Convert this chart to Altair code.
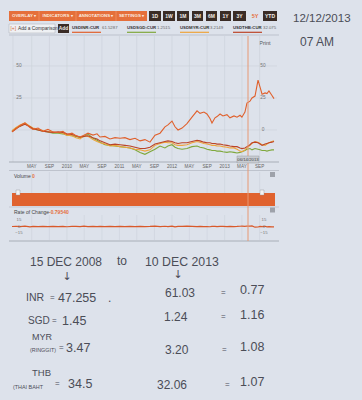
import altair as alt
import pandas as pd

# ---------------- data ----------------
dates = [
    "2008-12-15", "2009-01-12", "2009-02-09", "2009-03-15", "2009-04-19", "2009-05-10", "2009-06-14", "2009-07-18", "2009-08-22", "2009-09-26",
    "2009-10-31", "2009-12-04", "2010-01-01", "2010-02-05", "2010-03-05", "2010-04-02", "2010-04-29", "2010-05-27", "2010-07-01", "2010-07-29",
    "2010-08-19", "2010-09-22", "2010-10-27", "2010-12-01", "2011-01-05", "2011-02-08", "2011-03-15", "2011-04-19", "2011-05-24", "2011-06-27",
    "2011-08-01", "2011-09-05", "2011-10-10", "2011-11-13", "2011-12-04", "2012-01-01", "2012-01-22", "2012-02-12", "2012-03-11", "2012-04-14",
    "2012-05-19", "2012-06-23", "2012-07-14", "2012-08-10", "2012-08-31", "2012-09-21", "2012-10-05", "2012-10-26", "2012-11-09", "2012-11-30",
    "2012-12-20", "2013-01-17", "2013-02-07", "2013-03-07", "2013-03-28", "2013-04-18", "2013-05-01", "2013-05-22", "2013-06-05", "2013-06-26",
    "2013-07-10", "2013-07-31", "2013-08-21", "2013-09-04", "2013-09-18", "2013-10-09", "2013-10-22", "2013-11-05", "2013-11-26", "2013-12-10",
]
usdinr = [
    -1.5, 1.0, 3.5, 5.5, 2.0, 0.5, 1.5, -1.0, 0.5, -1.5,
    -2.0, -1.0, -3.5, -2.5, -4.5, -5.5, -4.0, -2.5, -4.0, -3.0,
    -5.5, -5.0, -7.0, -6.0, -6.5, -6.0, -7.5, -6.5, -8.5, -7.5,
    -9.5, -4.0, -2.5, 2.5, 4.0, 7.0, 2.5, 0.0, 1.5, 5.0,
    10.0, 15.0, 13.0, 14.0, 12.5, 9.0, 5.5, 9.5, 10.5, 12.5,
    11.0, 12.0, 9.5, 11.0, 10.0, 11.5, 10.0, 14.0, 21.0, 22.5,
    25.0, 26.5, 39.0, 33.5, 28.0, 29.0, 28.5, 30.5, 27.0, 24.5,
]
usdsgd = [
    -1.0, 1.5, 3.0, 5.0, 2.5, 1.0, 0.0, -1.0, -1.5, -2.5,
    -2.5, -3.0, -4.0, -4.5, -5.0, -6.0, -5.0, -3.0, -6.5, -8.0,
    -9.5, -11.5, -12.0, -12.5, -13.0, -13.5, -14.0, -15.5, -17.5, -19.0,
    -17.0, -15.0, -12.5, -14.0, -12.5, -11.5, -13.5, -14.5, -15.0, -14.5,
    -13.0, -12.5, -13.5, -14.0, -15.0, -15.5, -16.0, -16.0, -16.5, -16.5,
    -17.0, -17.5, -17.0, -17.5, -18.0, -17.5, -17.0, -16.0, -15.0, -14.5,
    -15.5, -14.5, -15.0, -15.5, -16.0, -16.0, -16.5, -16.0, -15.5, -15.5,
]
usdmyr = [
    -0.5, 2.0, 4.0, 5.5, 3.0, 1.5, 0.5, -0.5, -1.0, -2.0,
    -2.0, -2.5, -4.0, -4.5, -6.0, -7.0, -4.5, -5.0, -7.5, -9.0,
    -10.0, -11.0, -12.5, -12.0, -13.0, -13.5, -14.0, -15.0, -15.5, -16.5,
    -15.5, -12.0, -10.5, -9.5, -10.0, -10.0, -11.5, -12.0, -12.0, -11.5,
    -10.0, -9.0, -9.5, -10.5, -11.0, -11.5, -12.0, -12.0, -12.5, -12.5,
    -13.0, -13.5, -14.0, -14.0, -15.0, -16.5, -17.0, -15.5, -14.0, -12.0,
    -10.5, -9.0, -9.5, -10.5, -11.5, -12.0, -11.0, -10.0, -9.0, -8.5,
]
usdthb = [
    -1.5, 1.0, 3.0, 4.5, 2.5, 1.0, 0.0, -1.0, -1.5, -2.0,
    -1.5, -2.0, -3.0, -3.5, -4.5, -5.5, -5.0, -4.5, -6.0, -7.0,
    -8.5, -10.0, -11.5, -11.0, -11.5, -12.0, -12.5, -13.5, -14.5, -14.5,
    -13.5, -11.0, -10.0, -9.0, -8.5, -9.0, -10.0, -10.5, -10.0, -10.0,
    -9.0, -8.0, -8.5, -9.5, -10.0, -10.0, -10.5, -10.5, -11.0, -11.0,
    -11.5, -12.0, -12.5, -13.0, -13.0, -14.0, -14.5, -14.0, -13.0, -11.5,
    -10.0, -9.5, -10.0, -11.0, -12.0, -11.0, -10.5, -10.0, -9.5, -9.0,
]
rate_of_change = [
    0.0, 0.6, -0.4, 0.9, -0.7, 0.3, -0.2, 0.5, -0.5, 0.2,
    -0.3, 0.4, -0.6, 0.3, 0.1, -0.4, 0.7, -0.2, 0.3, -0.5,
    0.2, -0.1, 0.4, -0.3, 0.2, -0.4, 0.3, -0.2, 0.5, -0.3,
    0.1, 0.8, -0.5, 0.6, -0.4, 0.9, -0.8, 0.2, 0.4, 0.7,
    0.5, -0.3, 0.4, -0.5, -0.2, -0.6, 0.3, 0.5, -0.1, 0.2,
    0.4, -0.5, 0.3, -0.2, 0.1, 0.6, 0.9, 0.4, 1.2, 0.8,
    1.5, -1.6, -1.2, 0.3, -0.2, 0.6, -0.8, -0.5, -0.8, -0.8,
]
series_names = ["USDINR:CUR", "USDSGD:CUR", "USDMYR:CUR", "USDTHB:CUR"]
series_quotes = ["61.5287", "1.2515", "3.2149", "32.075"]
tick_dates = ["2009-05-01", "2009-09-01", "2010-01-01", "2010-05-01", "2010-09-01", "2011-01-01", "2011-05-01",
              "2011-09-01", "2012-01-01", "2012-05-01", "2012-09-01", "2013-01-01", "2013-05-01", "2013-09-01"]
tick_labels = ["MAY", "SEP", "2010", "MAY", "SEP", "2011", "MAY", "SEP", "2012", "MAY", "SEP", "2013", "MAY", "SEP"]
pct_ticks = [50, 25, 0]
roc_ticks = [15, 0, -15]
menus = ["OVERLAY \u25be", "INDICATORS \u25be", "ANNOTATIONS \u25be", "SETTINGS \u25be"]
ranges = ["1D", "1W", "1M", "3M", "6M", "1Y", "3Y", "5Y", "YTD"]
currencies = ["INR", "SGD", "MYR", "THB"]
currency_notes = ["", "", "(RINGGIT)", "(THAI BAHT"]
rate_2008 = [47.255, 1.45, 3.47, 34.5]
rate_2013 = [61.03, 1.24, 3.20, 32.06]
ratio = [0.77, 1.16, 1.08, 1.07]

# ---------------- style ----------------
BG = "#dde2eb"
ORANGE = "#e56f3b"
DARK = "#3a2c26"
INK = "#4b4d57"
UI = "Liberation Sans, Arial, sans-serif"
HAND = "Liberation Sans"
line_colors = ["#e0602c", "#7fa83c", "#eea43c", "#bb4428"]
GRID = "#cdd2db"

ONE = pd.DataFrame({"k": [0]})


def box(x1, y1, x2, y2, fill, stroke=None, sw=0.5):
    kw = dict(fill=fill, opacity=1)
    if stroke:
        kw.update(stroke=stroke, strokeWidth=sw)
    else:
        kw.update(strokeWidth=0)
    return alt.Chart(ONE).mark_rect(**kw).encode(
        x=alt.value(x1), x2=alt.value(x2), y=alt.value(y1), y2=alt.value(y2))


def seg(x1, y1, x2, y2, color, w=1.0):
    return alt.Chart(ONE).mark_rule(color=color, strokeWidth=w).encode(
        x=alt.value(x1), x2=alt.value(x2), y=alt.value(y1), y2=alt.value(y2))


def label(s, x, y, size, color, align="left", weight="normal", font=UI):
    return alt.Chart(ONE).mark_text(text=s, fontSize=size, color=color, align=align,
                                    baseline="middle", fontWeight=weight, font=font).encode(
        x=alt.value(x), y=alt.value(y))


layers = []

# ---------------- toolbar ----------------
layers.append(box(9, 11, 147, 21, ORANGE))
menu_spans = [(9, 39), (39, 76), (76, 116), (116, 147)]
for (a, b), m in zip(menu_spans, menus):
    if a > 9:
        layers.append(seg(a, 11, a, 21, "#f29a72", 0.6))
    layers.append(label(m, (a + b) / 2, 16, 4.4, "#fbe9df", "center", "bold"))
range_spans = [(149, 161), (163, 175), (177, 189), (192, 203), (206, 217), (220, 231), (233, 246), (250, 260), (263, 277)]
for (a, b), r in zip(range_spans, ranges):
    if r == "5Y":
        layers.append(label(r, (a + b) / 2, 16, 5.5, ORANGE, "center", "bold"))
    else:
        layers.append(box(a, 11, b, 21, DARK))
        layers.append(label(r, (a + b) / 2, 16, 5.0, "#f2eee9", "center", "bold"))

# comparison row
layers.append(box(9, 24, 55, 33, "#eff1f4", "#a9adb4", 0.5))
layers.append(label("[+]", 10.5, 28.5, 4.8, "#d06a3a"))
layers.append(label("Add a Comparison", 18, 28.5, 4.8, "#333333"))
layers.append(box(58, 24, 69, 33, DARK))
layers.append(label("Add", 63.5, 28.5, 4.8, "#f2eee9", "center", "bold"))
name_x = [72, 127, 180, 233]
for nx, nm, q, c in zip(name_x, series_names, series_quotes, line_colors):
    layers.append(label(nm, nx, 28, 4.3, "#333333", weight="bold"))
    layers.append(label(q, nx + 30, 28, 4.3, "#666666"))
    layers.append(seg(nx, 32.3, nx + 29, 32.3, c, 1.2))
layers.append(seg(9, 35, 279, 35, "#b6bbc5", 0.8))
layers.append(label("Print", 265, 43, 5.5, "#555555", "center"))

# ---------------- main price-change plot ----------------
xdom = [alt.DateTime(year=2008, month=12, date=15, utc=True), alt.DateTime(year=2013, month=12, date=10, utc=True)]
XS = alt.Scale(domain=xdom, range=[12, 274])
YS = alt.Scale(domain=[-20, 50], range=[155.6, 66], nice=False, zero=False)

ticks_df = pd.DataFrame({"date": tick_dates, "lab": tick_labels})
pct_df = pd.DataFrame({"pct": pct_ticks})

vgrid = alt.Chart(ticks_df).mark_rule(color=GRID, strokeWidth=0.7).encode(
    x=alt.X("date:T", scale=XS, axis=None), y=alt.value(36), y2=alt.value(162))
hgrid = alt.Chart(pct_df).mark_rule(color=GRID, strokeWidth=0.7).encode(
    y=alt.Y("pct:Q", scale=YS, axis=None), x=alt.value(13), x2=alt.value(277))
xlabels = alt.Chart(ticks_df).mark_text(fontSize=4.6, color="#666666", font=UI, baseline="middle").encode(
    x=alt.X("date:T", scale=XS, axis=None), y=alt.value(167), text="lab:N")
ylab_left = alt.Chart(pd.DataFrame({"pct": pct_ticks[:2]})).mark_text(
    fontSize=4.8, color="#777777", font=UI, baseline="middle").encode(
    y=alt.Y("pct:Q", scale=YS, axis=None), x=alt.value(19), text="pct:Q")
ylab_right = alt.Chart(pct_df).mark_text(fontSize=4.8, color="#777777", font=UI, baseline="middle").encode(
    y=alt.Y("pct:Q", scale=YS, axis=None), x=alt.value(263), text="pct:Q")

series_vals = [usdinr, usdsgd, usdmyr, usdthb]
line_layers = []
for idx in [1, 2, 3, 0]:
    d = pd.DataFrame({"date": dates, "pct": series_vals[idx]})
    line_layers.append(alt.Chart(d).mark_line(color=line_colors[idx], strokeWidth=1.1).encode(
        x=alt.X("date:T", scale=XS, axis=None), y=alt.Y("pct:Q", scale=YS, axis=None)))

main = alt.layer(vgrid, hgrid, *line_layers, xlabels, ylab_left, ylab_right)

layers.append(seg(13, 35, 13, 162, GRID, 0.7))

# ---------------- volume + rate of change panels ----------------
RS = alt.Scale(domain=[-15, 15], range=[233, 220], nice=False, zero=False)
vgrid_vol = alt.Chart(ticks_df).mark_rule(color=GRID, strokeWidth=0.6).encode(
    x=alt.X("date:T", scale=XS, axis=None), y=alt.value(172), y2=alt.value(193))
vgrid_roc = alt.Chart(ticks_df).mark_rule(color=GRID, strokeWidth=0.6).encode(
    x=alt.X("date:T", scale=XS, axis=None), y=alt.value(215), y2=alt.value(240))
roc_df = pd.DataFrame({"date": dates, "roc": rate_of_change})
roc_line = alt.Chart(roc_df).mark_line(color="#d9592a", strokeWidth=1.2).encode(
    x=alt.X("date:T", scale=XS, axis=None), y=alt.Y("roc:Q", scale=RS, axis=None))
roc_tick_df = pd.DataFrame({"roc": roc_ticks})
roc_lab_l = alt.Chart(roc_tick_df).mark_text(fontSize=4.3, color="#777777", font=UI, baseline="middle").encode(
    y=alt.Y("roc:Q", scale=RS, axis=None), x=alt.value(19), text="roc:Q")
roc_lab_r = alt.Chart(roc_tick_df).mark_text(fontSize=4.3, color="#777777", font=UI, baseline="middle").encode(
    y=alt.Y("roc:Q", scale=RS, axis=None), x=alt.value(264), text="roc:Q")
lower = alt.layer(vgrid_vol, vgrid_roc, roc_line, roc_lab_l, roc_lab_r)

panel = [
    seg(9, 162, 279, 162, "#9da2aa", 0.8),
    seg(9, 170.5, 279, 170.5, "#b6bbc5", 0.8),
    label("Volume", 14, 176, 5.0, "#444444"),
    label("0", 32, 176, 5.0, ORANGE, weight="bold"),
    box(270, 172, 275, 177, "#9ea2aa"),
    box(12, 193, 275, 206, "#e0622e"),
    box(16, 190, 20, 195, "#f3f3f3", "#8f8f8f", 0.4),
    box(260, 190, 264, 195, "#f3f3f3", "#8f8f8f", 0.4),
    seg(9, 207, 279, 207, "#b6bbc5", 0.6),
    label("Rate of Change", 14, 211.5, 5.0, "#444444"),
    label("-0.79540", 49, 211.5, 5.0, ORANGE, weight="bold"),
    box(270, 207.5, 275, 212.5, "#9ea2aa"),
    seg(9, 241, 279, 241, "#9da2aa", 0.8),
]
layers.extend(panel)

# crosshair
crosshair = [
    seg(248, 36, 248, 241, "#e79873", 1.0),
    box(237, 156, 259, 163, "#c8cbd1", "#999ca3", 0.5),
    label("06/14/2013", 248, 159.5, 4.3, "#444444", "center"),
]

# ---------------- handwritten notes ----------------
notes = [
    label("12/12/2013", 293, 19, 11.5, INK, font=HAND),
    label("07 AM", 300, 42, 12, INK, font=HAND),
    label("15 DEC 2008", 30, 262, 12, INK, font=HAND),
    label("to", 117, 261, 12, INK, font=HAND),
    label("10 DEC 2013", 145, 262, 12.3, INK, font=HAND),
    label("\u2193", 67, 277, 11, INK, "center", font="DejaVu Sans"),
    label("\u2193", 178, 275, 11, INK, "center", font="DejaVu Sans"),
    label(".", 108, 298, 12, INK, font=HAND),
]
name_pos = [(26, 298), (28, 321), (32, 337), (32, 373)]
name_size = [10.5, 10, 9, 9.5]
sub_pos = [None, None, (30, 350), (13, 387)]
eq1_pos = [(50, 298), (52, 321), (59, 348), (55, 384)]
v1_pos = [(58, 298), (62, 321), (66, 348), (68, 384)]
v2_pos = [(165, 293), (164, 317), (165, 350), (157, 385)]
eq2_pos = [(221, 293), (221, 317), (222, 350), (225, 385)]
r_pos = [(240, 290), (240, 315), (240, 347), (240, 382)]
for i, cur in enumerate(currencies):
    notes.append(label(cur, *name_pos[i], name_size[i], INK, font=HAND))
    if sub_pos[i]:
        notes.append(label(currency_notes[i], *sub_pos[i], 5.4, INK, font=HAND))
    notes.append(label("=", *eq1_pos[i], 8, INK, font=HAND))
    notes.append(label(str(rate_2008[i]), *v1_pos[i], 12.5, INK, font=HAND))
    notes.append(label(f"{rate_2013[i]:.2f}", *v2_pos[i], 12, INK, font=HAND))
    notes.append(label("=", *eq2_pos[i], 8, INK, font=HAND))
    notes.append(label(f"{ratio[i]:.2f}", *r_pos[i], 12.5, INK, font=HAND))

chart = alt.layer(*layers, main, lower, *crosshair, *notes).resolve_scale(
    x="independent", y="independent"
).properties(
    width=362, height=400, padding=0, background=BG,
    autosize=alt.AutoSizeParams(type="none"),
).configure_view(strokeWidth=0)

chart.save("out.html", embed_options={"renderer": "svg", "actions": False})
